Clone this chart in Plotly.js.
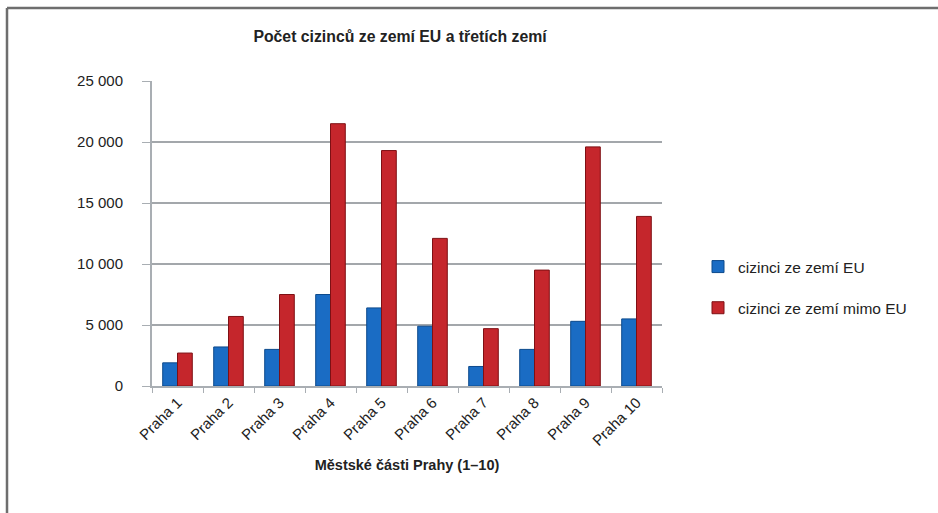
<!DOCTYPE html>
<html>
<head>
<meta charset="utf-8">
<script src="https://cdn.plot.ly/plotly-3.0.1.min.js"></script>
<style>html,body{margin:0;padding:0;background:#fff}#chart{width:938px;height:513px}</style>
</head>
<body>
<div id="chart"></div>
<script>
const categories = ["Praha 1","Praha 2","Praha 3","Praha 4","Praha 5","Praha 6","Praha 7","Praha 8","Praha 9","Praha 10"];
const euValues = [1900, 3200, 3000, 7500, 6400, 4900, 1600, 3000, 5300, 5500];
const nonEuValues = [2700, 5700, 7500, 21500, 19300, 12100, 4700, 9500, 19600, 13900];
const seriesNames = ["cizinci ze zemí EU", "cizinci ze zemí mimo EU"];
const yTicks = [0, 5000, 10000, 15000, 20000, 25000];

const font = "Liberation Sans, Arial, sans-serif";
const traces = [
  {type:"bar", x:categories, y:euValues, name:seriesNames[0], legendgroup:"a",
   marker:{color:"#1a6cc4", line:{color:"#0d4a8c", width:1}}},
  {type:"bar", x:categories, y:nonEuValues, name:seriesNames[1], legendgroup:"b",
   marker:{color:"#c5262c", line:{color:"#7e1014", width:1}}}
];
const layout = {
  width:938, height:513,
  margin:{l:152, r:276, t:81, b:127},
  paper_bgcolor:"#fff", plot_bgcolor:"#fff",
  separators:", ",
  font:{family:font, size:15, color:"#222"},
  title:{text:"<b>Počet cizinců ze zemí EU a třetích zemí</b>", x:400/938, xanchor:"center", xref:"container",
         y:1-36/513, yref:"container", yanchor:"middle", font:{size:15.8, family:font, color:"#222"}},
  barmode:"group", bargap:0.42, bargroupgap:0,
  xaxis:{type:"category", tickangle:-45, showline:true, linecolor:"#a9aeb3", linewidth:2,
         ticks:"outside", ticklen:5, tickcolor:"#a9aeb3", tickson:"boundaries",
         tickfont:{size:15, family:font, color:"#222"},
         title:{text:"<b>Městské části Prahy (1–10)</b>", font:{size:14.5, family:font, color:"#222"}, standoff:12}},
  yaxis:{range:[0,25000], tickvals:yTicks, tickformat:",d", showline:true, linecolor:"#a9aeb3", linewidth:2,
         ticks:"outside", ticklen:8, tickcolor:"#a9aeb3", showgrid:true, gridcolor:"#a3a7ab", gridwidth:2,
         zeroline:false, tickfont:{size:15, family:font, color:"#222"}, ticklabelstandoff:16, automargin:false},
  legend:{x:(698-152)/510, y:(386-250)/305, xanchor:"left", yanchor:"top", bgcolor:"rgba(0,0,0,0)",
          font:{size:15.5, family:font, color:"#222"}, tracegroupgap:18, traceorder:"grouped"},
  showlegend:true,
  shapes:[
    {type:"line", xref:"paper", yref:"paper", x0:(7-152)/510, x1:(938-152)/510, y0:(386-8)/305, y1:(386-8)/305,
     line:{color:"#6e6e6e", width:2.5}},
    {type:"line", xref:"paper", yref:"paper", x0:(7-152)/510, x1:(7-152)/510, y0:(386-8)/305, y1:(386-513)/305,
     line:{color:"#6e6e6e", width:2.5}}
  ]
};
Plotly.newPlot("chart", traces, layout, {displayModeBar:false, staticPlot:true});
</script>
</body>
</html>
